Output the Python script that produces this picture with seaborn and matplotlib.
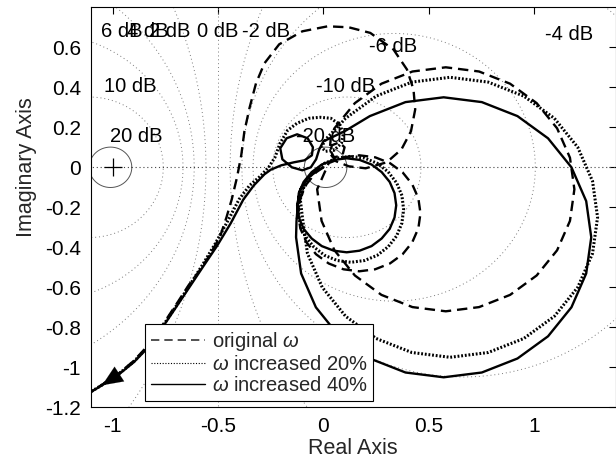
import numpy as np
import matplotlib
matplotlib.use("Agg")
import matplotlib.pyplot as plt
from matplotlib.lines import Line2D
import seaborn as sns

# ---------------- data ----------------
# M-circle levels (dB) and their labels
db_levels = [20, 10, 6, 4, 2, 0, -2, -4, -6, -10, -20]
db_labels = ["20 dB", "10 dB", "6 dB", "4 dB", "2 dB", "0 dB", "-2 dB",
             "-4 dB", "-6 dB", "-10 dB", "-20 dB"]
db_label_x = [-0.89, -0.918, -0.956, -0.832, -0.728, -0.5, -0.272, 1.167, 0.331, 0.107, 0.008]
db_label_y = [0.155, 0.405, 0.68, 0.68, 0.68, 0.68, 0.68, 0.663, 0.605, 0.405, 0.155]

critical_x = [-1.0]
critical_y = [0.0]

series_names = ["original $\\omega$", "$\\omega$ increased 20%", "$\\omega$ increased 40%"]

# original omega (dashed)
orig_re = [-1.13, -1.05, -0.97, -0.90, -0.84, -0.79, -0.744, -0.69, -0.64, -0.59, -0.54, -0.49,
           -0.46, -0.435, -0.41, -0.39, -0.375, -0.35, -0.32, -0.28, -0.21, -0.10, 0.02, 0.12,
           0.222, 0.332, 0.396, 0.427, 0.435, 0.415, 0.37, 0.30, 0.20, 0.12,
           0.06, 0.03, 0.04, 0.075, 0.10, 0.09, 0.05, 0.03, 0.035,
           0.052, 0.149, 0.275, 0.422, 0.58, 0.738, 0.885, 1.011, 1.108, 1.169, 1.19, 1.169,
           1.108, 1.011, 0.885, 0.738, 0.58, 0.422, 0.275, 0.149, 0.052, -0.009, -0.03,
           0.025, 0.095, 0.17, 0.245, 0.315, 0.375, 0.421, 0.45, 0.46, 0.45, 0.421, 0.375, 0.315,
           0.245, 0.17, 0.095, 0.025, -0.035, -0.081, -0.11, -0.12, -0.11, -0.081, -0.035, 0.0]
orig_im = [-1.14, -1.087, -1.03, -0.968, -0.90, -0.83, -0.758, -0.672, -0.59, -0.52, -0.44, -0.345,
           -0.25, -0.16, -0.05, 0.06, 0.18, 0.30, 0.42, 0.52, 0.615, 0.68, 0.705, 0.70,
           0.672, 0.589, 0.489, 0.389, 0.289, 0.18, 0.09, 0.025, -0.005, 0.005,
           0.03, 0.07, 0.11, 0.125, 0.10, 0.06, 0.05, 0.09, 0.15,
           0.195, 0.321, 0.418, 0.479, 0.50, 0.479, 0.418, 0.321, 0.195, 0.048, -0.11, -0.268,
           -0.415, -0.541, -0.638, -0.699, -0.72, -0.699, -0.638, -0.541, -0.415, -0.268, -0.11,
           0.021, 0.05, 0.06, 0.05, 0.021, -0.025, -0.085, -0.155, -0.23, -0.305, -0.375, -0.435,
           -0.481, -0.51, -0.52, -0.51, -0.481, -0.435, -0.375, -0.305, -0.23, -0.155, -0.085,
           -0.025, 0.0]

# omega increased 20% (dotted)
w20_re = [-1.13, -1.05, -0.97, -0.90, -0.84, -0.79, -0.744, -0.69, -0.635, -0.575, -0.515, -0.46,
          -0.40, -0.35, -0.30, -0.26,
          -0.23, -0.206, -0.17, -0.126, -0.07, -0.016, 0.035, 0.075, 0.095, 0.085, 0.05, 0.01,
          -0.01, 0.01, 0.048,
          0.105, 0.25, 0.419, 0.60, 0.781, 0.95, 1.095, 1.206, 1.276, 1.30, 1.276, 1.206, 1.095,
          0.95, 0.781, 0.60, 0.419, 0.25, 0.105, -0.006, -0.076, -0.10, -0.11,
          -0.087, -0.047, 0.005, 0.065, 0.13, 0.195, 0.255, 0.307, 0.347, 0.372, 0.38, 0.372,
          0.347, 0.307, 0.255, 0.195, 0.13, 0.065, 0.005, -0.047, -0.087, -0.112, -0.12,
          -0.112, -0.087]
w20_im = [-1.14, -1.088, -1.032, -0.972, -0.905, -0.835, -0.765, -0.68, -0.59, -0.49, -0.385, -0.28,
          -0.16, -0.09, -0.045, 0.0,
          0.05, 0.12, 0.185, 0.22, 0.245, 0.25, 0.245, 0.215, 0.17, 0.12, 0.085, 0.08,
          0.10, 0.14, 0.181,
          0.245, 0.356, 0.426, 0.45, 0.426, 0.356, 0.245, 0.10, -0.069, -0.25, -0.431, -0.60, -0.745,
          -0.856, -0.926, -0.95, -0.926, -0.856, -0.745, -0.60, -0.431, -0.25, -0.16,
          -0.078, -0.023, 0.02, 0.046, 0.055, 0.046, 0.02, -0.023, -0.078, -0.141, -0.21, -0.279,
          -0.343, -0.397, -0.44, -0.466, -0.475, -0.466, -0.44, -0.397, -0.343, -0.279, -0.21,
          -0.141, -0.078]

# omega increased 40% (solid)
w40_re = [-1.13, -1.05, -0.97, -0.90, -0.84, -0.79, -0.744, -0.69, -0.633, -0.57, -0.506, -0.44,
          -0.38, -0.33, -0.28, -0.25,
          -0.20, -0.14, -0.09, -0.055, -0.05, -0.075, -0.125, -0.175, -0.205, -0.195, -0.15, -0.10,
          -0.06, -0.035, -0.02, 0.0,
          0.10, 0.22, 0.389, 0.57, 0.751, 0.92, 1.065, 1.176, 1.246, 1.27, 1.246, 1.176, 1.065,
          0.92, 0.751, 0.57, 0.389, 0.22, 0.075, -0.036, -0.106, -0.13, -0.128,
          -0.117, -0.094, -0.056, -0.008, 0.049, 0.11, 0.171, 0.228, 0.276, 0.314, 0.337, 0.345,
          0.337, 0.314, 0.276, 0.228, 0.171, 0.11, 0.049, -0.008, -0.056, -0.094, -0.117, -0.125,
          -0.11, -0.07, -0.02, 0.0]
w40_im = [-1.14, -1.09, -1.035, -0.975, -0.91, -0.84, -0.77, -0.685, -0.595, -0.495, -0.395, -0.28,
          -0.161, -0.09, -0.035, -0.012,
          0.01, 0.025, 0.035, 0.06, 0.10, 0.145, 0.165, 0.145, 0.095, 0.04, 0.0, -0.015,
          0.0, 0.04, 0.09, 0.13,
          0.18, 0.256, 0.326, 0.35, 0.326, 0.256, 0.145, 0.0, -0.169, -0.35, -0.531, -0.70, -0.845,
          -0.956, -1.026, -1.05, -1.026, -0.956, -0.845, -0.70, -0.531, -0.35, -0.27,
          -0.129, -0.073, -0.024, 0.014, 0.037, 0.045, 0.037, 0.014, -0.024, -0.073, -0.129, -0.19,
          -0.251, -0.308, -0.356, -0.394, -0.417, -0.425, -0.417, -0.394, -0.356, -0.308, -0.251,
          -0.19, -0.11, -0.05, -0.01, 0.0]

x_ticks = [-1, -0.5, 0, 0.5, 1]
y_ticks = [-1.2, -1, -0.8, -0.6, -0.4, -0.2, 0, 0.2, 0.4, 0.6]

# ---------------- style ----------------
sns.set_style("white")
plt.rcParams["font.family"] = ["Liberation Sans", "DejaVu Sans"]
plt.rcParams["mathtext.fontset"] = "custom"
plt.rcParams["mathtext.it"] = "Liberation Sans:italic"
plt.rcParams["mathtext.rm"] = "Liberation Sans"

fig = plt.figure(figsize=(6.16, 4.71), dpi=100)
ax = fig.add_axes([90.7 / 616, 1 - 407.3 / 471, (615.5 - 90.7) / 616, 400 / 471])
XMIN, XMAX, YMIN, YMAX = -1.104, 1.385, -1.2, 0.8
ax.set_xlim(XMIN, XMAX)
ax.set_ylim(YMIN, YMAX)

grid_col = "#7a7a7a"
grid_ls = (0, (1, 3))
# M-circles
t = np.linspace(0, 2 * np.pi, 721)
for db in db_levels:
    M = 10 ** (db / 20)
    if db == 0:
        sns.lineplot(x=[-0.5, -0.5], y=[YMIN - 1, YMAX + 1], sort=False, estimator=None,
                     color=grid_col, lw=0.7, linestyle=grid_ls, ax=ax, legend=False)
        continue
    c = -M ** 2 / (M ** 2 - 1)
    r = abs(M / (M ** 2 - 1))
    solid = abs(db) >= 20
    sns.lineplot(x=c + r * np.cos(t), y=r * np.sin(t), sort=False, estimator=None,
                 color="#555555" if solid else grid_col, lw=0.7,
                 linestyle="-" if solid else grid_ls, ax=ax, legend=False)
# real axis
sns.lineplot(x=[XMIN - 1, XMAX + 1], y=[0, 0], sort=False, estimator=None,
             color="#444444", lw=0.8, linestyle=(0, (1, 2.5)), ax=ax, legend=False)

for lab, lx, ly in zip(db_labels, db_label_x, db_label_y):
    ax.text(lx, ly, lab, ha="center", va="center", fontsize=14.5, color="k", zorder=3)

ax.plot(critical_x, critical_y, marker="+", ms=13, mew=0.9, color="k", ls="none", zorder=4)

# curves
sns.lineplot(x=orig_re, y=orig_im, sort=False, estimator=None, color="k", lw=1.7,
             linestyle=(0, (4.4, 2.5)), ax=ax, legend=False, zorder=5)
sns.lineplot(x=w20_re, y=w20_im, sort=False, estimator=None, color="k", lw=2.2,
             linestyle=(0, (0.6, 0.6)), ax=ax, legend=False, zorder=5)
sns.lineplot(x=w40_re, y=w40_im, sort=False, estimator=None, color="k", lw=1.7,
             linestyle="-", ax=ax, legend=False, zorder=5)

# direction arrow on the common tail
ax.annotate("", xy=(w40_re[1], w40_im[1]), xytext=(w40_re[2], w40_im[2]),
            arrowprops=dict(arrowstyle="-|>,head_length=0.7,head_width=0.3",
                            color="k", lw=0.1, mutation_scale=21,
                            shrinkA=0, shrinkB=0), zorder=6)

# axes cosmetics
ax.set_xticks(x_ticks)
ax.set_yticks(y_ticks)
ax.set_xticklabels([f"{v:g}" for v in x_ticks])
ax.set_yticklabels([f"{v:g}" for v in y_ticks])
ax.tick_params(direction="in", top=True, right=True, length=5, width=0.8,
               labelsize=15, pad=7, colors="k")
for s in ax.spines.values():
    s.set_visible(True)
    s.set_color("k")
    s.set_linewidth(0.8)
ax.set_xlabel("Real Axis", fontsize=15.5)
ax.set_ylabel("Imaginary Axis", fontsize=15.5)
ax.xaxis.set_label_coords(0.5, -0.077)
ax.yaxis.set_label_coords(-0.103, 0.6)

handles = [
    Line2D([], [], color="#333333", lw=1.2, linestyle=(0, (5, 3))),
    Line2D([], [], color="k", lw=0.8, linestyle=(0, (1, 1.5))),
    Line2D([], [], color="k", lw=1.0, linestyle="-"),
]
leg = ax.legend(handles, series_names, loc="lower left", bbox_to_anchor=(0.1036, 0.0158),
                borderaxespad=0, fontsize=14.5, frameon=True, fancybox=False,
                edgecolor="k", framealpha=1, handlelength=2.7, handletextpad=0.3,
                labelspacing=0.1, borderpad=0.3)
leg.get_frame().set_linewidth(0.8)
leg.set_zorder(10)

fig.savefig("out.png", dpi=100, facecolor="white")
